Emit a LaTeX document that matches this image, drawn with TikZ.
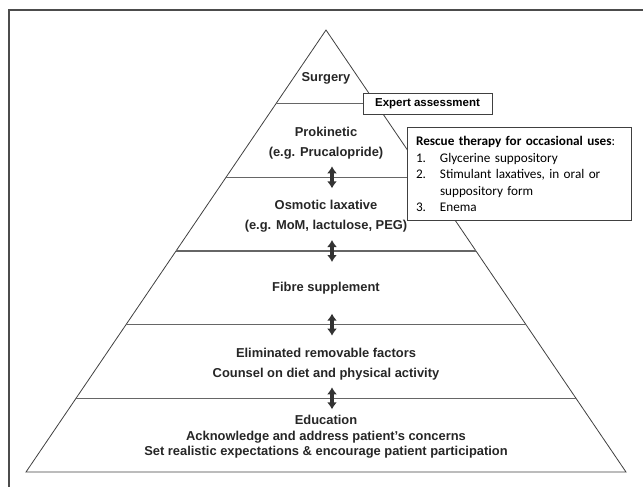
\documentclass[tikz,border=0pt]{standalone}
\usepackage{fontspec}
\setmainfont{Liberation Sans}
\newfontfamily\calfont{Carlito}
\usetikzlibrary{positioning,calc,arrows.meta}

\begin{document}
\begin{tikzpicture}[x=1pt, y=-1pt,
    tier/.style={font=\bfseries\fontsize{12.9}{20}\selectfont, align=center, text=black!85},
    edutier/.style={tier, font=\bfseries\fontsize{12.9}{15.5}\selectfont},
    sepline/.style={line width=1.5pt, draw=black!60},
    side/.style={line width=0.8pt, draw=black!75},
    updown/.style={{Latex[length=7pt,width=10pt]}-{Latex[length=7pt,width=10pt]}, line width=3.2pt, draw=black!80},
    note/.style={draw=black!75, line width=0.8pt, fill=white},
    frame/.style={line width=1.2pt, draw=black!70}
]
    \useasboundingbox (0,0) rectangle (643,487);
    \draw[frame] (643,10) -| (9,487);

    % Pyramid outline
    \coordinate (apex) at (326,30);
    \coordinate (bl) at (26,472);
    \coordinate (br) at (626,472);
    \draw[side] (bl) -- (apex) -- (br) -- cycle;

    % Tier borders at 1/6 steps
    \foreach \k in {1,...,5} {
        \draw[sepline] ($(apex)!\k/6!(bl)$) -- ($(apex)!\k/6!(br)$);
    }

    % Tier labels
    \node[tier] (surgery) at (326,78) {Surgery};
    \node[tier] (prokin) at (326,143) {Prokinetic\\(e.g. Prucalopride)};
    \node[tier] (osmotic) at (326,216) {Osmotic laxative\\(e.g. MoM, lactulose, PEG)};
    \node[tier] (fibre) at (326,288) {Fibre supplement};
    \node[tier] (factors) at (326,364) {Eliminated removable factors\\Counsel on diet and physical activity};
    \node[edutier] (educ) at (326,437) {Education\\Acknowledge and address patient's concerns\\Set realistic expectations \& encourage patient participation};

    % Two-way arrows between tiers
    \foreach \k in {2,...,5} {
        \coordinate (up\k) at ($(332,30)!\k/6!(332,472) + (0,-11)$);
        \coordinate (dn\k) at ($(332,30)!\k/6!(332,472) + (0,11)$);
        \draw[updown] (up\k) -- (dn\k);
    }

    % Side boxes
    \node[note, minimum width=129pt, minimum height=21pt, inner sep=0pt,
          font=\bfseries\fontsize{11.5}{14}\selectfont] (expert) at (427.5,103.5) {Expert assessment};
    \node[note, text width=206pt, inner xsep=9pt, minimum height=93pt, align=left,
          font=\calfont\fontsize{13.2}{16.5}\selectfont] (rescue) at (519,174)
        {\mbox{\textbf{Rescue therapy for occasional uses}:}\\
         \makebox[24pt][l]{1.}Glycerine suppository\\
         \makebox[24pt][l]{2.}Stimulant laxatives, in oral or\\
         \hspace*{24pt}suppository form\\
         \makebox[24pt][l]{3.}Enema};
\end{tikzpicture}
\end{document}
